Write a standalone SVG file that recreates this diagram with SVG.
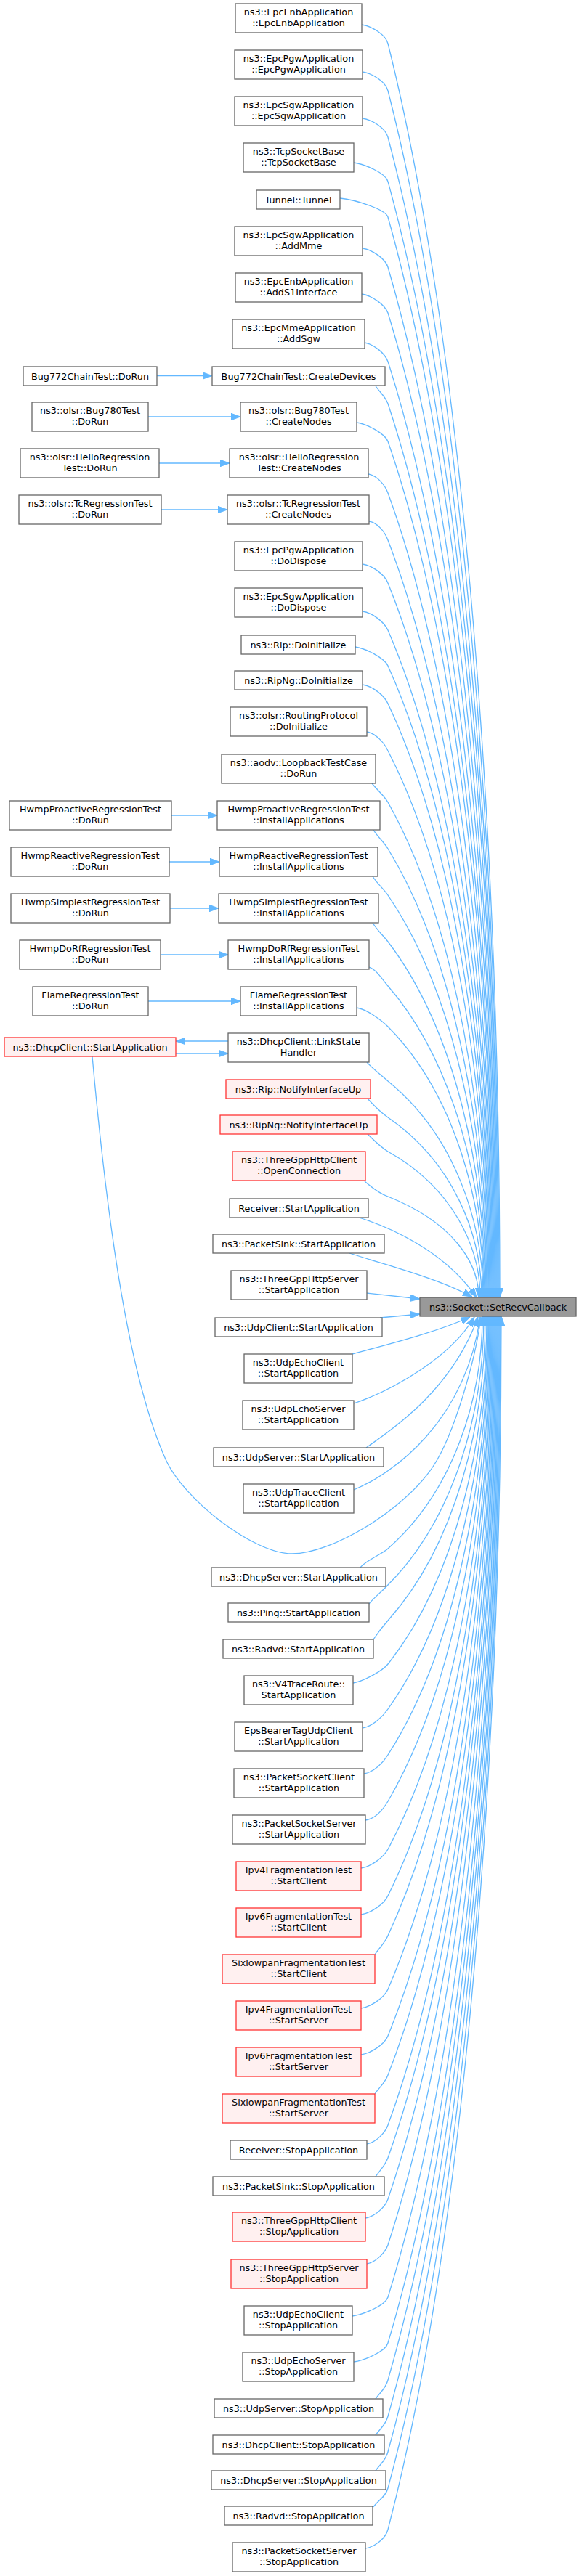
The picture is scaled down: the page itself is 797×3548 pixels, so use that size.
<svg xmlns="http://www.w3.org/2000/svg" width="797" height="3548" viewBox="0 0 797 3548">
<style>
.nd rect{fill:#ffffff;stroke:#666666;stroke-width:1.3}
.rd rect{fill:#fff0f0;stroke:#ff3333;stroke-width:1.3}
.tg rect{fill:#999999;stroke:#666666;stroke-width:1.3}
text{font-family:"DejaVu Sans","Liberation Sans",sans-serif;font-size:12.8px;text-anchor:middle;fill:#000000}
.e{fill:none;stroke:#63b8ff;stroke-width:1.3;marker-end:url(#ah)}
</style>
<defs>
<marker id="ah" viewBox="0 0 13 10" refX="13" refY="5" markerWidth="13" markerHeight="10" markerUnits="userSpaceOnUse" orient="auto">
<path d="M0,0.3 L13,5 L0,9.7 z" fill="#63b8ff" stroke="#63b8ff" stroke-width="1"/>
</marker>
</defs>
<rect width="797" height="3548" fill="#ffffff"/>
<g id="edges">
<path class="e" d="M498,34 C512,36 531,48 534,60 C642,492 688,1183 688,1787"/>
<path class="e" d="M499,99 C513,101 531,113 534,125 C641,541 687,1205 687,1787"/>
<path class="e" d="M499,163 C513,165 531,177 534,189 C640,589 686,1228 686,1787"/>
<path class="e" d="M487,224 C501,226 531,238 534,250 C640,634 685,1249 685,1787"/>
<path class="e" d="M468,273 C488,275 531,288 534,299 C639,671 684,1266 684,1787"/>
<path class="e" d="M499,342 C513,344 531,357 534,368 C638,723 683,1290 683,1787"/>
<path class="e" d="M498,405 C512,407 530,420 534,431 C638,770 682,1312 682,1787"/>
<path class="e" d="M502,472 C515,474 530,487 534,498 C637,820 681,1336 681,1787"/>
<path class="e" d="M516,530 C522,540 530,545 534,556 C636,864 680,1356 680,1787"/>
<path class="e" d="M491,582 C505,584 530,597 534,608 C636,903 679,1374 679,1787"/>
<path class="e" d="M507,653 C519,655 530,668 534,679 C635,956 678,1399 678,1787"/>
<path class="e" d="M508,718 C520,720 530,733 534,744 C634,1005 677,1422 677,1787"/>
<path class="e" d="M499,777 C513,779 530,792 534,803 C633,1049 676,1443 676,1787"/>
<path class="e" d="M499,842 C513,844 529,857 534,868 C633,1098 675,1465 675,1787"/>
<path class="e" d="M489,891 C503,893 529,906 534,917 C632,1135 674,1483 674,1787"/>
<path class="e" d="M499,943 C513,945 529,958 534,969 C631,1174 673,1501 673,1787"/>
<path class="e" d="M505,1008 C517,1010 529,1023 534,1034 C631,1222 672,1523 672,1787"/>
<path class="e" d="M512,1079 C520,1089 528,1095 534,1105 C630,1276 671,1548 671,1787"/>
<path class="e" d="M514,1143 C520,1153 528,1159 534,1169 C629,1324 670,1571 670,1787"/>
<path class="e" d="M513,1207 C519,1217 527,1223 534,1233 C629,1372 669,1593 669,1787"/>
<path class="e" d="M513,1271 C519,1281 527,1288 534,1297 C628,1420 668,1616 668,1787"/>
<path class="e" d="M508,1332 C518,1335 526,1349 534,1358 C627,1465 667,1637 667,1787"/>
<path class="e" d="M491,1388 C505,1390 526,1406 534,1414 C626,1507 666,1656 666,1787"/>
<path class="e" d="M505,1463 C513,1472 525,1481 534,1489 C626,1564 665,1683 665,1787"/>
<path class="e" d="M506,1513 C514,1522 524,1532 534,1539 C624,1601 663,1700 663,1787"/>
<path class="e" d="M506,1562 C514,1570 524,1580 534,1586 C623,1636 661,1717 661,1787"/>
<path class="e" d="M502,1627 C510,1634 523,1644 534,1648 C622,1683 659,1738 659,1787"/>
<path class="e" d="M494,1677 C530,1688 610,1720 656,1787"/>
<path class="e" d="M481,1726 C540,1745 600,1760 650,1786"/>
<path class="e" d="M505,1781 L578,1789"/>
<path class="e" d="M523,1815 L578,1810"/>
<path class="e" d="M485,1865 C540,1850 600,1835 647,1814"/>
<path class="e" d="M487,1933 C540,1915 620,1870 653,1814"/>
<path class="e" d="M504,1994 C530,1975 620,1920 658,1814"/>
<path class="e" d="M487,2052 C540,2030 640,1960 661,1814"/>
<path class="e" d="M496,2159 C504,2149 525,2141 534,2133 C625,2053 664,1925 664,1813"/>
<path class="e" d="M508,2209 C515,2200 526,2192 534,2183 C626,2091 666,1943 666,1813"/>
<path class="e" d="M514,2258 C520,2249 526,2241 534,2232 C628,2127 668,1960 668,1813"/>
<path class="e" d="M486,2318 C500,2316 527,2301 534,2292 C629,2172 670,1981 670,1813"/>
<path class="e" d="M499,2380 C513,2378 527,2364 534,2354 C630,2219 671,2002 671,1813"/>
<path class="e" d="M501,2443 C515,2441 528,2427 534,2417 C631,2266 672,2024 672,1813"/>
<path class="e" d="M503,2507 C517,2505 528,2491 534,2481 C631,2314 673,2047 673,1813"/>
<path class="e" d="M497,2573 C511,2571 528,2558 534,2547 C632,2364 674,2070 674,1813"/>
<path class="e" d="M497,2637 C511,2635 529,2622 534,2611 C633,2412 675,2092 675,1813"/>
<path class="e" d="M516,2692 C522,2683 529,2677 534,2666 C633,2453 676,2112 676,1813"/>
<path class="e" d="M497,2766 C511,2764 529,2751 534,2740 C634,2508 677,2137 677,1813"/>
<path class="e" d="M497,2830 C511,2828 530,2815 534,2804 C635,2556 678,2160 678,1813"/>
<path class="e" d="M516,2884 C522,2875 530,2869 534,2858 C636,2597 679,2179 679,1813"/>
<path class="e" d="M505,2953 C517,2951 530,2938 534,2927 C636,2649 680,2203 680,1813"/>
<path class="e" d="M517,2998 C523,2989 530,2983 534,2972 C637,2682 681,2219 681,1813"/>
<path class="e" d="M503,3055 C516,3053 530,3040 534,3029 C638,2725 682,2239 682,1813"/>
<path class="e" d="M505,3118 C517,3116 530,3103 534,3092 C638,2772 683,2261 683,1813"/>
<path class="e" d="M485,3190 C499,3188 530,3176 534,3164 C639,2826 684,2286 684,1813"/>
<path class="e" d="M487,3253 C501,3251 531,3239 534,3227 C640,2874 685,2308 685,1813"/>
<path class="e" d="M517,3304 C523,3295 531,3290 534,3278 C640,2912 686,2326 686,1813"/>
<path class="e" d="M517,3354 C523,3345 531,3340 534,3328 C641,2949 687,2343 687,1813"/>
<path class="e" d="M517,3403 C523,3394 531,3389 534,3377 C642,2986 688,2360 688,1813"/>
<path class="e" d="M514,3453 C520,3444 531,3439 534,3427 C643,3024 689,2378 689,1813"/>
<path class="e" d="M503,3510 C516,3508 531,3496 534,3484 C643,3066 690,2398 690,1813"/>
<path class="e" d="M127,1455 C149,1700 179,1900 228,2010 C252,2064 348,2140 402,2140 C457,2140 556,2080 596,2020 C626,1975 655,1870 662,1814"/>
<path class="e" d="M216,517.5 L292,517.5"/>
<path class="e" d="M204,574 L331,574"/>
<path class="e" d="M219,638 L316,638"/>
<path class="e" d="M222,702 L313,702"/>
<path class="e" d="M236,1123 L299,1123"/>
<path class="e" d="M233,1187 L302,1187"/>
<path class="e" d="M234,1251 L301,1251"/>
<path class="e" d="M221,1315 L314,1315"/>
<path class="e" d="M204,1379 L331,1379"/>
<path class="e" d="M314,1434 L242,1434"/>
<path class="e" d="M242,1451 L314,1451"/>
</g>
<g id="n1" class="nd"><rect x="324" y="5" width="174" height="40"/><text x="411" y="21">ns3::EpcEnbApplication</text><text x="411" y="36">::EpcEnbApplication</text></g>
<g id="n2" class="nd"><rect x="323" y="69" width="176" height="40"/><text x="411" y="85">ns3::EpcPgwApplication</text><text x="411" y="100">::EpcPgwApplication</text></g>
<g id="n3" class="nd"><rect x="323" y="133" width="176" height="40"/><text x="411" y="149">ns3::EpcSgwApplication</text><text x="411" y="164">::EpcSgwApplication</text></g>
<g id="n4" class="nd"><rect x="335" y="197" width="152" height="40"/><text x="411" y="213">ns3::TcpSocketBase</text><text x="411" y="228">::TcpSocketBase</text></g>
<g id="n5" class="nd"><rect x="353" y="262" width="115" height="26"/><text x="410.5" y="279.5">Tunnel::Tunnel</text></g>
<g id="n6" class="nd"><rect x="323" y="312" width="176" height="40"/><text x="411" y="328">ns3::EpcSgwApplication</text><text x="411" y="343">::AddMme</text></g>
<g id="n7" class="nd"><rect x="324" y="376" width="174" height="40"/><text x="411" y="392">ns3::EpcEnbApplication</text><text x="411" y="407">::AddS1Interface</text></g>
<g id="n8" class="nd"><rect x="320" y="440" width="182" height="40"/><text x="411" y="456">ns3::EpcMmeApplication</text><text x="411" y="471">::AddSgw</text></g>
<g id="n9" class="nd"><rect x="292" y="505" width="238" height="26"/><text x="411" y="522.5">Bug772ChainTest::CreateDevices</text></g>
<g id="l9" class="nd"><rect x="32" y="505" width="184" height="26"/><text x="124" y="522.5">Bug772ChainTest::DoRun</text></g>
<g id="n10" class="nd"><rect x="331" y="554" width="160" height="40"/><text x="411" y="570">ns3::olsr::Bug780Test</text><text x="411" y="585">::CreateNodes</text></g>
<g id="l10" class="nd"><rect x="44" y="554" width="160" height="40"/><text x="124" y="570">ns3::olsr::Bug780Test</text><text x="124" y="585">::DoRun</text></g>
<g id="n11" class="nd"><rect x="316" y="618" width="191" height="40"/><text x="411.5" y="634">ns3::olsr::HelloRegression</text><text x="411.5" y="649">Test::CreateNodes</text></g>
<g id="l11" class="nd"><rect x="28" y="618" width="191" height="40"/><text x="123.5" y="634">ns3::olsr::HelloRegression</text><text x="123.5" y="649">Test::DoRun</text></g>
<g id="n12" class="nd"><rect x="313" y="682" width="195" height="40"/><text x="410.5" y="698">ns3::olsr::TcRegressionTest</text><text x="410.5" y="713">::CreateNodes</text></g>
<g id="l12" class="nd"><rect x="26" y="682" width="196" height="40"/><text x="124" y="698">ns3::olsr::TcRegressionTest</text><text x="124" y="713">::DoRun</text></g>
<g id="n13" class="nd"><rect x="323" y="746" width="176" height="40"/><text x="411" y="762">ns3::EpcPgwApplication</text><text x="411" y="777">::DoDispose</text></g>
<g id="n14" class="nd"><rect x="323" y="810" width="176" height="40"/><text x="411" y="826">ns3::EpcSgwApplication</text><text x="411" y="841">::DoDispose</text></g>
<g id="n15" class="nd"><rect x="332" y="875" width="157" height="26"/><text x="410.5" y="892.5">ns3::Rip::DoInitialize</text></g>
<g id="n16" class="nd"><rect x="323" y="924" width="176" height="26"/><text x="411" y="941.5">ns3::RipNg::DoInitialize</text></g>
<g id="n17" class="nd"><rect x="317" y="974" width="188" height="40"/><text x="411" y="990">ns3::olsr::RoutingProtocol</text><text x="411" y="1005">::DoInitialize</text></g>
<g id="n18" class="nd"><rect x="305" y="1039" width="212" height="40"/><text x="411" y="1055">ns3::aodv::LoopbackTestCase</text><text x="411" y="1070">::DoRun</text></g>
<g id="n19" class="nd"><rect x="299" y="1103" width="224" height="40"/><text x="411" y="1119">HwmpProactiveRegressionTest</text><text x="411" y="1134">::InstallApplications</text></g>
<g id="l19" class="nd"><rect x="13" y="1103" width="223" height="40"/><text x="124.5" y="1119">HwmpProactiveRegressionTest</text><text x="124.5" y="1134">::DoRun</text></g>
<g id="n20" class="nd"><rect x="302" y="1167" width="218" height="40"/><text x="411" y="1183">HwmpReactiveRegressionTest</text><text x="411" y="1198">::InstallApplications</text></g>
<g id="l20" class="nd"><rect x="15" y="1167" width="218" height="40"/><text x="124" y="1183">HwmpReactiveRegressionTest</text><text x="124" y="1198">::DoRun</text></g>
<g id="n21" class="nd"><rect x="301" y="1231" width="220" height="40"/><text x="411" y="1247">HwmpSimplestRegressionTest</text><text x="411" y="1262">::InstallApplications</text></g>
<g id="l21" class="nd"><rect x="15" y="1231" width="219" height="40"/><text x="124.5" y="1247">HwmpSimplestRegressionTest</text><text x="124.5" y="1262">::DoRun</text></g>
<g id="n22" class="nd"><rect x="314" y="1295" width="194" height="40"/><text x="411" y="1311">HwmpDoRfRegressionTest</text><text x="411" y="1326">::InstallApplications</text></g>
<g id="l22" class="nd"><rect x="27" y="1295" width="194" height="40"/><text x="124" y="1311">HwmpDoRfRegressionTest</text><text x="124" y="1326">::DoRun</text></g>
<g id="n23" class="nd"><rect x="331" y="1359" width="160" height="40"/><text x="411" y="1375">FlameRegressionTest</text><text x="411" y="1390">::InstallApplications</text></g>
<g id="l23" class="nd"><rect x="45" y="1359" width="159" height="40"/><text x="124.5" y="1375">FlameRegressionTest</text><text x="124.5" y="1390">::DoRun</text></g>
<g id="n24" class="nd"><rect x="314" y="1423" width="194" height="40"/><text x="411" y="1439">ns3::DhcpClient::LinkState</text><text x="411" y="1454">Handler</text></g>
<g id="l24" class="rd"><rect x="6" y="1429" width="236" height="26"/><text x="124" y="1446.5">ns3::DhcpClient::StartApplication</text></g>
<g id="n25" class="rd"><rect x="311" y="1487" width="199" height="26"/><text x="410.5" y="1504.5">ns3::Rip::NotifyInterfaceUp</text></g>
<g id="n26" class="rd"><rect x="303" y="1536" width="216" height="26"/><text x="411" y="1553.5">ns3::RipNg::NotifyInterfaceUp</text></g>
<g id="n27" class="rd"><rect x="320" y="1586" width="183" height="40"/><text x="411.5" y="1602">ns3::ThreeGppHttpClient</text><text x="411.5" y="1617">::OpenConnection</text></g>
<g id="n28" class="nd"><rect x="316" y="1651" width="191" height="26"/><text x="411.5" y="1668.5">Receiver::StartApplication</text></g>
<g id="n29" class="nd"><rect x="293" y="1700" width="236" height="26"/><text x="411" y="1717.5">ns3::PacketSink::StartApplication</text></g>
<g id="n30" class="nd"><rect x="318" y="1750" width="187" height="40"/><text x="411.5" y="1766">ns3::ThreeGppHttpServer</text><text x="411.5" y="1781">::StartApplication</text></g>
<g id="target" class="tg"><rect x="578" y="1787" width="215" height="26"/><text x="685.5" y="1804.5">ns3::Socket::SetRecvCallback</text></g>
<g id="n31" class="nd"><rect x="296" y="1815" width="230" height="26"/><text x="411" y="1832.5">ns3::UdpClient::StartApplication</text></g>
<g id="n32" class="nd"><rect x="336" y="1865" width="149" height="40"/><text x="410.5" y="1881">ns3::UdpEchoClient</text><text x="410.5" y="1896">::StartApplication</text></g>
<g id="n33" class="nd"><rect x="334" y="1929" width="153" height="40"/><text x="410.5" y="1945">ns3::UdpEchoServer</text><text x="410.5" y="1960">::StartApplication</text></g>
<g id="n34" class="nd"><rect x="294" y="1994" width="234" height="26"/><text x="411" y="2011.5">ns3::UdpServer::StartApplication</text></g>
<g id="n35" class="nd"><rect x="335" y="2044" width="152" height="40"/><text x="411" y="2060">ns3::UdpTraceClient</text><text x="411" y="2075">::StartApplication</text></g>
<g id="n36" class="nd"><rect x="291" y="2159" width="240" height="26"/><text x="411" y="2176.5">ns3::DhcpServer::StartApplication</text></g>
<g id="n37" class="nd"><rect x="314" y="2208" width="194" height="26"/><text x="411" y="2225.5">ns3::Ping::StartApplication</text></g>
<g id="n38" class="nd"><rect x="307" y="2258" width="207" height="26"/><text x="410.5" y="2275.5">ns3::Radvd::StartApplication</text></g>
<g id="n39" class="nd"><rect x="336" y="2308" width="150" height="40"/><text x="411" y="2324">ns3::V4TraceRoute::</text><text x="411" y="2339">StartApplication</text></g>
<g id="n40" class="nd"><rect x="323" y="2372" width="176" height="40"/><text x="411" y="2388">EpsBearerTagUdpClient</text><text x="411" y="2403">::StartApplication</text></g>
<g id="n41" class="nd"><rect x="322" y="2436" width="179" height="40"/><text x="411.5" y="2452">ns3::PacketSocketClient</text><text x="411.5" y="2467">::StartApplication</text></g>
<g id="n42" class="nd"><rect x="320" y="2500" width="183" height="40"/><text x="411.5" y="2516">ns3::PacketSocketServer</text><text x="411.5" y="2531">::StartApplication</text></g>
<g id="n43" class="rd"><rect x="325" y="2564" width="172" height="40"/><text x="411" y="2580">Ipv4FragmentationTest</text><text x="411" y="2595">::StartClient</text></g>
<g id="n44" class="rd"><rect x="325" y="2628" width="172" height="40"/><text x="411" y="2644">Ipv6FragmentationTest</text><text x="411" y="2659">::StartClient</text></g>
<g id="n45" class="rd"><rect x="306" y="2692" width="210" height="40"/><text x="411" y="2708">SixlowpanFragmentationTest</text><text x="411" y="2723">::StartClient</text></g>
<g id="n46" class="rd"><rect x="325" y="2756" width="172" height="40"/><text x="411" y="2772">Ipv4FragmentationTest</text><text x="411" y="2787">::StartServer</text></g>
<g id="n47" class="rd"><rect x="325" y="2820" width="172" height="40"/><text x="411" y="2836">Ipv6FragmentationTest</text><text x="411" y="2851">::StartServer</text></g>
<g id="n48" class="rd"><rect x="306" y="2884" width="210" height="40"/><text x="411" y="2900">SixlowpanFragmentationTest</text><text x="411" y="2915">::StartServer</text></g>
<g id="n49" class="nd"><rect x="317" y="2948" width="188" height="26"/><text x="411" y="2965.5">Receiver::StopApplication</text></g>
<g id="n50" class="nd"><rect x="293" y="2998" width="236" height="26"/><text x="411" y="3015.5">ns3::PacketSink::StopApplication</text></g>
<g id="n51" class="rd"><rect x="320" y="3047" width="183" height="40"/><text x="411.5" y="3063">ns3::ThreeGppHttpClient</text><text x="411.5" y="3078">::StopApplication</text></g>
<g id="n52" class="rd"><rect x="318" y="3112" width="187" height="40"/><text x="411.5" y="3128">ns3::ThreeGppHttpServer</text><text x="411.5" y="3143">::StopApplication</text></g>
<g id="n53" class="nd"><rect x="336" y="3176" width="149" height="40"/><text x="410.5" y="3192">ns3::UdpEchoClient</text><text x="410.5" y="3207">::StopApplication</text></g>
<g id="n54" class="nd"><rect x="334" y="3240" width="153" height="40"/><text x="410.5" y="3256">ns3::UdpEchoServer</text><text x="410.5" y="3271">::StopApplication</text></g>
<g id="n55" class="nd"><rect x="295" y="3304" width="232" height="26"/><text x="411" y="3321.5">ns3::UdpServer::StopApplication</text></g>
<g id="n56" class="nd"><rect x="293" y="3354" width="236" height="26"/><text x="411" y="3371.5">ns3::DhcpClient::StopApplication</text></g>
<g id="n57" class="nd"><rect x="291" y="3403" width="240" height="26"/><text x="411" y="3420.5">ns3::DhcpServer::StopApplication</text></g>
<g id="n58" class="nd"><rect x="309" y="3452" width="204" height="26"/><text x="411" y="3469.5">ns3::Radvd::StopApplication</text></g>
<g id="n59" class="nd"><rect x="320" y="3502" width="183" height="40"/><text x="411.5" y="3518">ns3::PacketSocketServer</text><text x="411.5" y="3533">::StopApplication</text></g>
</svg>
